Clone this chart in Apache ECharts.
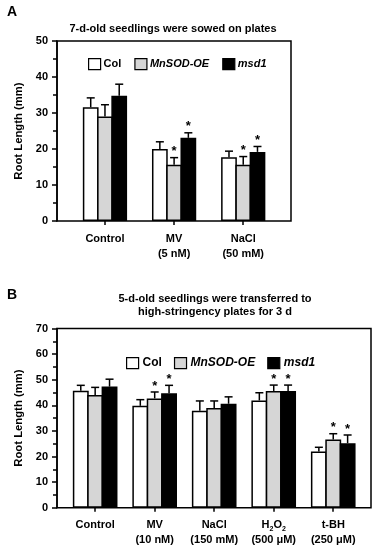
<!DOCTYPE html>
<html>
<head>
<meta charset="utf-8">
<script src="https://cdn.jsdelivr.net/npm/echarts@6/dist/echarts.min.js"></script>
<style>html,body{margin:0;padding:0;background:#fff;}#c{width:380px;height:550px;}</style>
</head>
<body>
<div id="c"></div>
<script>
// ---------- Data ----------
const genotypes = ['Col', 'MnSOD-OE', 'msd1'];

// Panel A
const categoriesA = ['Control', 'MV', 'NaCl'];
const doseA = ['', '(5 nM)', '(50 mM)'];
const colA = [31.6, 20.0, 17.7];
const colErrA = [2.6, 2.0, 1.7];
const colStarA = [0, 0, 0];
const oeA = [29.0, 15.6, 15.6];
const oeErrA = [3.3, 2.0, 2.3];
const oeStarA = [0, 1, 1];
const msdA = [34.8, 23.1, 19.2];
const msdErrA = [3.2, 1.4, 1.5];
const msdStarA = [0, 1, 1];
const yTicksA = [0, 10, 20, 30, 40, 50];

// Panel B
const categoriesB = ['Control', 'MV', 'NaCl', 'H2O2', 't-BH'];
const doseB = ['', '(10 nM)', '(150 mM)', '(500 μM)', '(250 μM)'];
const colB = [45.7, 39.8, 37.9, 41.9, 22.0];
const colErrB = [2.1, 2.4, 3.8, 3.0, 1.6];
const colStarB = [0, 0, 0, 0, 0];
const oeB = [44.0, 42.7, 38.9, 45.6, 26.6];
const oeErrB = [3.0, 2.5, 2.8, 2.3, 2.3];
const oeStarB = [0, 1, 0, 1, 1];
const msdB = [47.3, 44.7, 40.6, 45.6, 25.2];
const msdErrB = [2.9, 3.1, 2.7, 2.3, 3.2];
const msdStarB = [0, 1, 0, 1, 1];
const yTicksB = [0, 10, 20, 30, 40, 50, 60, 70];

// ---------- Style ----------
const FONT = '"Liberation Sans", Arial, Helvetica, sans-serif';
const fills = ['#ffffff', '#d6d6d6', '#000000'];
const gapA = 0.36, gapB = 0.25;
const barGap = -0.095;

const chart = echarts.init(document.getElementById('c'), null, {renderer: 'canvas'});

function errSeries(name, gridIdx, k, gap, means, errs, stars) {
  return {
    type: 'custom', name: name + '-err', xAxisIndex: gridIdx, yAxisIndex: gridIdx, z: 5,
    silent: true,
    data: means.map((m, i) => [i, m, m + errs[i], stars[i]]),
    encode: {x: 0, y: [1, 2]},
    renderItem: function (params, api) {
      const cat = api.value(0), mean = api.value(1), top = api.value(2), star = api.value(3);
      const band = api.size([1, 0])[0];
      const bw = band * (1 - gap) / (3 + 2 * barGap);
      const step = bw * (1 + barGap);
      const p0 = api.coord([cat, mean]);
      const p1 = api.coord([cat, top]);
      const x = p0[0] + (k - 1) * step;
      const st = {stroke: '#000', lineWidth: 1.5};
      const children = [
        {type: 'line', shape: {x1: x, y1: p0[1], x2: x, y2: p1[1]}, style: st},
        {type: 'line', shape: {x1: x - 4, y1: p1[1], x2: x + 4, y2: p1[1]}, style: st}
      ];
      if (star) {
        children.push({type: 'text', x: x, y: p1[1] - 6,
          style: {text: '*', font: 'bold 13px ' + FONT, fill: '#000', align: 'center', verticalAlign: 'middle'}});
      }
      return {type: 'group', children: children};
    }
  };
}

function barSeries(name, gridIdx, k, gap, values) {
  return {
    type: 'bar', name: name, xAxisIndex: gridIdx, yAxisIndex: gridIdx,
    data: values, barGap: (barGap * 100) + '%', barCategoryGap: (gap * 100) + '%',
    itemStyle: {color: fills[k], borderColor: '#000', borderWidth: 1.5},
    emphasis: {disabled: true}
  };
}

function labelFmt(cats, doses) {
  return function (v, i) {
    let first = v === 'H2O2' ? '{b|H}{s|2}{b|O}{s|2}' : '{b|' + v + '}';
    return doses[i] ? first + '\n{b|' + doses[i] + '}' : first;
  };
}

const richLbl = {
  b: {fontFamily: FONT, fontWeight: 'bold', fontSize: 11, lineHeight: 15, color: '#000'},
  s: {fontFamily: FONT, fontWeight: 'bold', fontSize: 7, lineHeight: 15, color: '#000', verticalAlign: 'bottom', padding: [5, 0, 0, 0]}
};

function yAxis(gridIdx, ticks, offset) {
  return {
    type: 'value', gridIndex: gridIdx, min: ticks[0], max: ticks[ticks.length - 1], interval: 10,
    offset: offset,
    axisLine: {show: true, lineStyle: {color: '#000', width: 1.5}},
    axisTick: {show: true, length: 5, lineStyle: {color: '#000', width: 1.5}},
    minorTick: {show: true, splitNumber: 2, length: 4, lineStyle: {color: '#000', width: 1.5}},
    splitLine: {show: false},
    axisLabel: {fontFamily: FONT, fontWeight: 'bold', fontSize: 11, color: '#000', margin: 9},
    name: 'Root Length (mm)', nameLocation: 'middle', nameRotate: 90, nameGap: 30,
    nameTextStyle: {fontFamily: FONT, fontWeight: 'bold', fontSize: 11.3, color: '#000'}
  };
}

function xAxis(gridIdx, cats, doses) {
  return {
    type: 'category', gridIndex: gridIdx, data: cats,
    axisLine: {show: false},
    axisTick: {show: true, alignWithLabel: true, length: 4, lineStyle: {color: '#000', width: 1.5}},
    axisLabel: {interval: 0, margin: 10, formatter: labelFmt(cats, doses), rich: richLbl, lineHeight: 15}
  };
}

const option = {
  animation: false,
  backgroundColor: '#fff',
  textStyle: {fontFamily: FONT},
  grid: [
    {left: 70.4, top: 41, width: 207.4, height: 180, containLabel: false},
    {left: 65.4, top: 328.5, width: 297.6, height: 179.2, containLabel: false},
    {left: 57, top: 41, width: 234, height: 180, show: true, borderColor: '#000', borderWidth: 1.5, z: 3},
    {left: 57, top: 328.5, width: 314, height: 179.2, show: true, borderColor: '#000', borderWidth: 1.5, z: 3}
  ],
  xAxis: [
    xAxis(0, categoriesA, doseA),
    xAxis(1, categoriesB, doseB),
    {type: 'value', gridIndex: 2, show: false},
    {type: 'value', gridIndex: 3, show: false}
  ],
  yAxis: [
    yAxis(0, yTicksA, 13.4),
    yAxis(1, yTicksB, 8.4),
    {type: 'value', gridIndex: 2, show: false},
    {type: 'value', gridIndex: 3, show: false}
  ],
  legend: [
    {left: 83, top: 53, itemWidth: 12, itemHeight: 11, itemGap: 13,
     data: [{name: 'Col'}, {name: 'MnSOD-OE', textStyle: {fontStyle: 'italic'}}, {name: 'msd1', textStyle: {fontStyle: 'italic'}}],
     textStyle: {fontFamily: FONT, fontWeight: 'bold', fontSize: 11, color: '#000', padding: [0, 0, 0, -2]},
     itemStyle: {borderColor: '#000', borderWidth: 1.2}, selectedMode: false, icon: 'rect'},
    {left: 121, top: 352, itemWidth: 12, itemHeight: 11, itemGap: 12,
     data: [{name: 'Col'}, {name: 'MnSOD-OE', textStyle: {fontStyle: 'italic'}}, {name: 'msd1', textStyle: {fontStyle: 'italic'}}],
     textStyle: {fontFamily: FONT, fontWeight: 'bold', fontSize: 12, color: '#000', padding: [0, 0, 0, -1]},
     itemStyle: {borderColor: '#000', borderWidth: 1.2}, selectedMode: false, icon: 'rect'}
  ],
  graphic: [
    {type: 'text', left: 7, top: 5, style: {text: 'A', font: 'bold 14px ' + FONT, fill: '#000'}},
    {type: 'text', x: 173, y: 29, style: {text: '7-d-old seedlings were sowed on plates', font: 'bold 11px ' + FONT, fill: '#000', align: 'center', verticalAlign: 'middle'}},
    {type: 'text', left: 7, top: 288, style: {text: 'B', font: 'bold 14px ' + FONT, fill: '#000'}},
    {type: 'text', x: 215, y: 305.5, style: {text: '5-d-old seedlings were transferred to\nhigh-stringency plates for 3 d', font: 'bold 11px ' + FONT, lineHeight: 13.5, fill: '#000', align: 'center', verticalAlign: 'middle'}}
  ],
  series: [
    barSeries('Col', 0, 0, gapA, colA),
    barSeries('MnSOD-OE', 0, 1, gapA, oeA),
    barSeries('msd1', 0, 2, gapA, msdA),
    errSeries('Col', 0, 0, gapA, colA, colErrA, colStarA),
    errSeries('MnSOD-OE', 0, 1, gapA, oeA, oeErrA, oeStarA),
    errSeries('msd1', 0, 2, gapA, msdA, msdErrA, msdStarA),
    barSeries('Col', 1, 0, gapB, colB),
    barSeries('MnSOD-OE', 1, 1, gapB, oeB),
    barSeries('msd1', 1, 2, gapB, msdB),
    errSeries('Col', 1, 0, gapB, colB, colErrB, colStarB),
    errSeries('MnSOD-OE', 1, 1, gapB, oeB, oeErrB, oeStarB),
    errSeries('msd1', 1, 2, gapB, msdB, msdErrB, msdStarB)
  ]
};
chart.setOption(option);
</script>
</body>
</html>
